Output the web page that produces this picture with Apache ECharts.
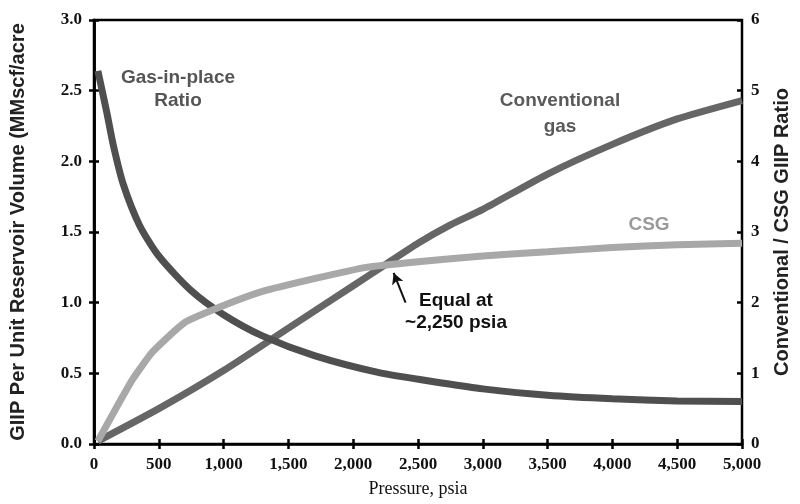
<!DOCTYPE html>
<html>
<head>
<meta charset="utf-8">
<script src="https://cdn.jsdelivr.net/npm/echarts@6/dist/echarts.min.js"></script>
<style>html,body{margin:0;padding:0;background:#fff}#c{width:800px;height:504px}</style>
</head>
<body>
<div id="c"></div>
<script>
// Pressure (psia) and values
const convPressure = [30, 500, 1000, 1500, 2000, 2250, 2500, 2750, 3000, 3500, 4000, 4500, 5000];
const convGIIP     = [0.02, 0.25, 0.52, 0.82, 1.12, 1.27, 1.42, 1.55, 1.66, 1.91, 2.12, 2.30, 2.43];

const csgPressure = [30, 150, 300, 450, 700, 1000, 1300, 1700, 2100, 2500, 3000, 3500, 4000, 4500, 5000];
const csgGIIP     = [0.02, 0.22, 0.46, 0.65, 0.86, 0.98, 1.08, 1.17, 1.25, 1.29, 1.33, 1.36, 1.39, 1.41, 1.42];

const ratioPressure = [30, 100, 150, 225, 350, 500, 750, 1000, 1300, 1700, 2200, 2700, 3000, 3500, 4000, 4500, 5000];
const ratioValue    = [5.28, 4.68, 4.22, 3.68, 3.10, 2.66, 2.17, 1.83, 1.53, 1.25, 1.01, 0.86, 0.78, 0.69, 0.64, 0.61, 0.60];

const xTicks = { min: 0, max: 5000, interval: 500 };
const leftTicks = { min: 0, max: 3, interval: 0.5 };
const rightTicks = { min: 0, max: 6, interval: 1 };

const zip = (a, b) => a.map((v, i) => [v, b[i]]);
const serif = "'Liberation Serif', 'Times New Roman', serif";
const sans = "'Liberation Sans', Arial, sans-serif";
const fmtX = v => v === 0 ? '0' : v.toLocaleString('en-US');
const annFont = "bold 19px 'Liberation Sans', Arial, sans-serif";

const chart = echarts.init(document.getElementById('c'), null, { renderer: 'canvas' });
const axisLine = { show: true, lineStyle: { color: '#000', width: 2.5 } };
const tickStyle = { color: '#000', width: 2.5 };
const tickLabel = { fontFamily: serif, fontWeight: 'bold', fontSize: 17, color: '#111' };

chart.setOption({
  animation: false,
  backgroundColor: '#fff',
  grid: { left: 94, right: 55, top: 20, bottom: 60, show: true, borderColor: '#000', borderWidth: 2.5, backgroundColor: 'transparent' },
  xAxis: [
    { type: 'value', position: 'bottom', ...xTicks, axisLine,
      axisTick: { show: true, inside: false, length: 5, lineStyle: tickStyle },
      axisLabel: { formatter: fmtX, ...tickLabel, margin: 12 },
      splitLine: { show: false },
      name: 'Pressure, psia', nameLocation: 'middle', nameGap: 36,
      nameTextStyle: { fontFamily: serif, fontSize: 18, color: '#111' } },
    { type: 'value', position: 'bottom', ...xTicks, axisLine: { show: false },
      axisTick: { show: true, inside: true, length: 5, lineStyle: tickStyle },
      axisLabel: { show: false }, splitLine: { show: false } }
  ],
  yAxis: [
    { type: 'value', position: 'left', ...leftTicks, axisLine,
      axisTick: { show: true, inside: false, length: 5, lineStyle: tickStyle },
      axisLabel: { formatter: v => v.toFixed(1), ...tickLabel, margin: 12 },
      splitLine: { show: false },
      name: 'GIIP Per Unit Reservoir Volume (MMscf/acre', nameLocation: 'middle', nameGap: 66, nameRotate: 90,
      nameTextStyle: { fontFamily: sans, fontWeight: 'bold', fontSize: 20, color: '#222' } },
    { type: 'value', position: 'right', ...rightTicks, axisLine,
      axisTick: { show: true, inside: false, length: 5, lineStyle: tickStyle },
      axisLabel: { ...tickLabel, margin: 9 },
      splitLine: { show: false },
      name: 'Conventional / CSG GIIP Ratio', nameLocation: 'middle', nameGap: 30, nameRotate: 90,
      nameTextStyle: { fontFamily: sans, fontWeight: 'bold', fontSize: 20, color: '#222' } },
    { type: 'value', position: 'left', ...leftTicks, axisLine: { show: false },
      axisTick: { show: true, inside: true, length: 5, lineStyle: tickStyle },
      axisLabel: { show: false }, splitLine: { show: false } },
    { type: 'value', position: 'right', ...rightTicks, axisLine: { show: false },
      axisTick: { show: true, inside: true, length: 5, lineStyle: tickStyle },
      axisLabel: { show: false }, splitLine: { show: false } }
  ],
  series: [
    { name: 'Conventional gas', type: 'line', xAxisIndex: 0, yAxisIndex: 0, data: zip(convPressure, convGIIP),
      smooth: 0.2, showSymbol: false, lineStyle: { color: '#666', width: 7 }, z: 2,
      markLine: { silent: true, symbol: ['none', 'arrow'], symbolSize: [9, 11], label: { show: false },
        lineStyle: { color: '#111', width: 2, type: 'solid' },
        data: [[{ coord: [2404, 1.0] }, { coord: [2312, 1.21] }]] } },
    { name: 'Gas-in-place Ratio', type: 'line', xAxisIndex: 0, yAxisIndex: 1, data: zip(ratioPressure, ratioValue),
      smooth: 0.25, showSymbol: false, lineStyle: { color: '#4f4f4f', width: 7 }, z: 3 },
    { name: 'CSG', type: 'line', xAxisIndex: 0, yAxisIndex: 0, data: zip(csgPressure, csgGIIP),
      smooth: 0.15, showSymbol: false, lineStyle: { color: '#a8a8a8', width: 7 }, z: 4 }
  ],
  graphic: [
    { type: 'text', x: 178, y: 89, style: { text: 'Gas-in-place\nRatio', fill: '#555', font: annFont, textAlign: 'center', textVerticalAlign: 'middle', lineHeight: 23 } },
    { type: 'text', x: 560, y: 114, style: { text: 'Conventional\ngas', fill: '#5a5a5a', font: annFont, textAlign: 'center', textVerticalAlign: 'middle', lineHeight: 26 } },
    { type: 'text', x: 649, y: 225, style: { text: 'CSG', fill: '#9a9a9a', font: annFont, textAlign: 'center', textVerticalAlign: 'middle' } },
    { type: 'text', x: 456, y: 312, style: { text: 'Equal at\n~2,250 psia', fill: '#111', font: annFont, textAlign: 'center', textVerticalAlign: 'middle', lineHeight: 22 } }
  ]
});
</script>
</body>
</html>
